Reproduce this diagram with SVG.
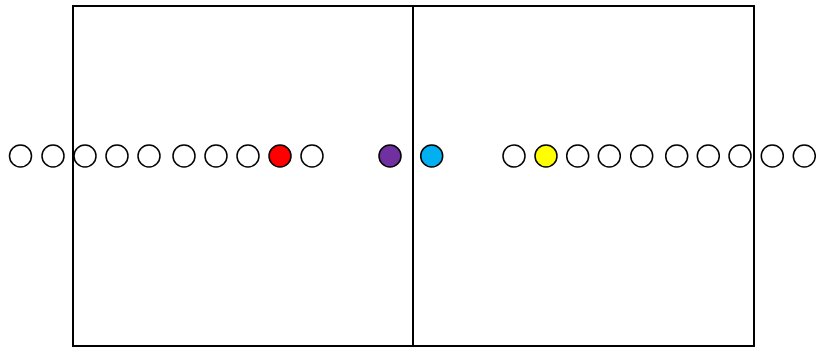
<svg xmlns="http://www.w3.org/2000/svg" width="816" height="347" viewBox="0 0 816 347">
<style>
.box{fill:none;stroke:#000;stroke-width:2}
.c{stroke:#000;stroke-width:1.5;fill:#fff}
</style>
<rect width="816" height="347" fill="#fff"/>
<g id="frame">
<rect class="box" x="73" y="6" width="681" height="340"/>
<line class="box" x1="413" y1="6" x2="413" y2="346"/>
</g>
<g id="connectors"></g>
<g id="n1"><circle class="c" cx="20.5" cy="156" r="11"/></g>
<g id="n2"><circle class="c" cx="53" cy="156" r="11"/></g>
<g id="n3"><circle class="c" cx="85" cy="156" r="11"/></g>
<g id="n4"><circle class="c" cx="117" cy="156" r="11"/></g>
<g id="n5"><circle class="c" cx="149" cy="156" r="11"/></g>
<g id="n6"><circle class="c" cx="184" cy="156" r="11"/></g>
<g id="n7"><circle class="c" cx="216" cy="156" r="11"/></g>
<g id="n8"><circle class="c" cx="248" cy="156" r="11"/></g>
<g id="n9"><circle class="c" cx="280" cy="156" r="11" style="fill:#ff0000"/></g>
<g id="n10"><circle class="c" cx="312" cy="156" r="11"/></g>
<g id="n11"><circle class="c" cx="390" cy="156" r="11" style="fill:#7030a0"/></g>
<g id="n12"><circle class="c" cx="431.7" cy="156" r="11" style="fill:#00b0f0"/></g>
<g id="n13"><circle class="c" cx="514" cy="156" r="11"/></g>
<g id="n14"><circle class="c" cx="546" cy="156" r="11" style="fill:#ffff00"/></g>
<g id="n15"><circle class="c" cx="577.7" cy="156" r="11"/></g>
<g id="n16"><circle class="c" cx="609.3" cy="156" r="11"/></g>
<g id="n17"><circle class="c" cx="641.7" cy="156" r="11"/></g>
<g id="n18"><circle class="c" cx="676.7" cy="156" r="11"/></g>
<g id="n19"><circle class="c" cx="708.3" cy="156" r="11"/></g>
<g id="n20"><circle class="c" cx="740" cy="156" r="11"/></g>
<g id="n21"><circle class="c" cx="772.3" cy="156" r="11"/></g>
<g id="n22"><circle class="c" cx="804.3" cy="156" r="11"/></g>
</svg>
